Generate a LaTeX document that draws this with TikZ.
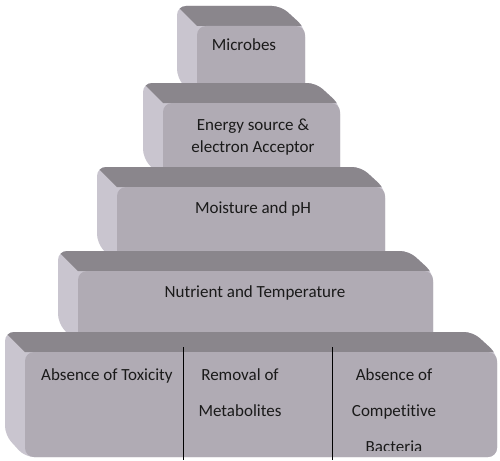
\documentclass[tikz,border=0pt]{standalone}
\usepackage{fontspec}
\setmainfont{Carlito}[Ligatures=NoCommon]
\definecolor{facegray}{HTML}{B0ABB4}
\definecolor{topgray}{HTML}{8A868C}
\definecolor{sidegray}{HTML}{C9C5CF}
\definecolor{inkgray}{HTML}{1A1A1A}
% one bevelled step: left, top, right, bottom (pixels, y down)
\newcommand{\bevblock}[4]{%
  \begin{scope}
    \clip[rounded corners=9pt] (#1,#2) -- (#3-24,#2) -- (#3,#2+22) -- (#3,#4)
      -- (#1+20,#4) -- (#1,#4-22) -- cycle;
    \fill[sidegray] (#1-5,#2-5) rectangle (#3+5,#4+5);
    \fill[topgray] (#1-5,#2-5) -- (#3+5,#2-5) -- (#3+5,#2+20) -- (#1+20,#2+20) -- cycle;
  \end{scope}
  \fill[facegray,rounded corners=9pt] (#1+20,#2+20) rectangle (#3,#4);
}

\begin{document}
\begin{tikzpicture}[x=1pt,y=-1pt,
  lbl/.style={inner sep=0pt,text=inkgray,font=\fontsize{17}{22}\selectfont},
  cell/.style={lbl,align=center,font=\fontsize{17}{36}\selectfont},
  divider/.style={line width=1pt,black}]
\useasboundingbox (0,0) rectangle (500,460);
\fill[white] (0,0) rectangle (500,460);
% steps, top to bottom
\bevblock{177}{6}{305}{100}
\bevblock{143}{83}{340}{180}
\bevblock{97}{167}{385}{265}
\bevblock{58}{251}{433}{345}
\bevblock{5}{332}{497}{457}
% labels
\node[lbl,anchor=base] (mic) at (244,51) {Microbes};
\node[lbl,anchor=base,align=center] (ener) at (253,152) {Energy source \&\\electron Acceptor};
\node[lbl,anchor=base] (moist) at (253,213) {Moisture and pH};
\node[lbl,anchor=base] (nutr) at (255,297) {Nutrient and Temperature};
\begin{scope}
  \clip (0,0) rectangle (500,450);
  \node[lbl,anchor=base west] (tox) at (41,380) {Absence of Toxicity};
  \node[cell,anchor=base] (remo) at (240,416) {Removal of\\Metabolites};
  \node[cell,anchor=base] (comp) at (394,452) {Absence of\\Competitive\\Bacteria};
\end{scope}
\draw[divider] (183,347) -- (183,460);
\draw[divider] (332,347) -- (332,460);
\end{tikzpicture}
\end{document}
